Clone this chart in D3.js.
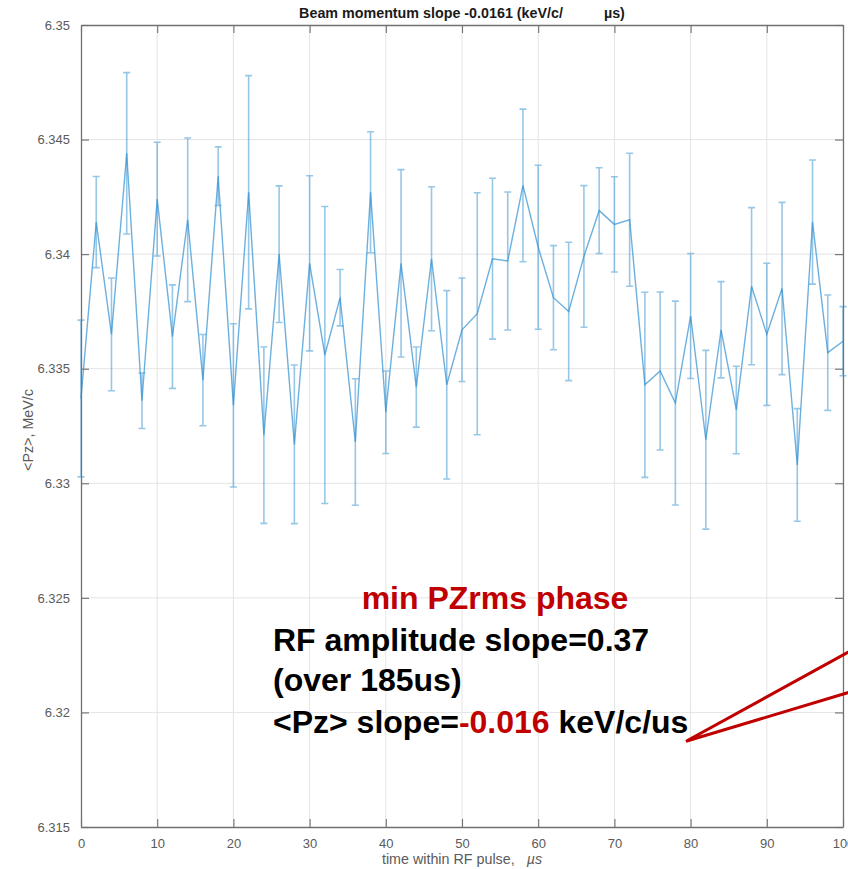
<!DOCTYPE html>
<html lang="en">
<head>
  <meta charset="UTF-8" />
  <title>Beam momentum slope</title>
  <script src="https://d3js.org/d3.v7.min.js"></script>
  <style>
    body { margin: 0; background: #fff; }
    svg { display: block; font-family: "Liberation Sans", Arial, sans-serif; }
    .tick-label { font-size: 13px; fill: #5a5a5a; }
    .grid line { stroke: #e4e4e4; stroke-width: 1; }
    .note { font-size: 32px; font-weight: bold; fill: #000; }
    .red { fill: #c00000; }
  </style>
</head>
<body>
  <svg width="848" height="869"></svg>

  <script>
    // time within RF pulse (us)
    const times = [0, 2, 4, 6, 8, 10, 12, 14, 16, 18, 20, 22, 24, 26, 28, 30, 32, 34, 36, 38,
      40, 42, 44, 46, 48, 50, 52, 54, 56, 58, 60, 62, 64, 66, 68, 70, 72, 74, 76, 78,
      80, 82, 84, 86, 88, 90, 92, 94, 96, 98, 100];

    // <Pz> in MeV/c
    const pzMean = [6.3337, 6.3414, 6.3365, 6.3444, 6.3336, 6.3424, 6.3364, 6.3415, 6.3345, 6.3434,
      6.3334, 6.3427, 6.3321, 6.3400, 6.3317, 6.3396, 6.3356, 6.3381, 6.3318, 6.3427,
      6.3331, 6.3396, 6.3342, 6.3398, 6.3343, 6.3367, 6.3374, 6.3398, 6.3397, 6.3430,
      6.3403, 6.3381, 6.3375, 6.3399, 6.3419, 6.3413, 6.3415, 6.3343, 6.3349, 6.3335,
      6.3373, 6.3319, 6.3367, 6.3332, 6.3386, 6.3365, 6.3385, 6.3308, 6.3414, 6.3357,
      6.3362];

    // error bar half-widths
    const pzErr = [0.00342, 0.00199, 0.00246, 0.00352, 0.00121, 0.00248, 0.00226, 0.00357, 0.00199, 0.00128,
      0.00356, 0.00509, 0.00385, 0.00298, 0.00346, 0.00382, 0.00648, 0.00123, 0.00276, 0.00264,
      0.00180, 0.00409, 0.00175, 0.00314, 0.00411, 0.00226, 0.00528, 0.00351, 0.00301, 0.00333,
      0.00358, 0.00227, 0.00302, 0.00309, 0.00187, 0.00208, 0.00290, 0.00404, 0.00345, 0.00445,
      0.00273, 0.00390, 0.00210, 0.00191, 0.00343, 0.00310, 0.00376, 0.00246, 0.00271, 0.00252,
      0.00151];

    const xTicks = [0, 10, 20, 30, 40, 50, 60, 70, 80, 90, 100];
    const yTicks = [6.315, 6.32, 6.325, 6.33, 6.335, 6.34, 6.345, 6.35];

    const svg = d3.select("svg");
    const x = d3.scaleLinear().domain([0, 100]).range([81, 843]);
    const y = d3.scaleLinear().domain([6.315, 6.35]).range([827, 25]);

    const data = times.map((t, i) => ({ t: t, v: pzMean[i], e: pzErr[i] }));

    // grid
    const grid = svg.append("g").attr("class", "grid");
    grid.selectAll(".gx").data(xTicks.slice(1, -1)).join("line")
      .attr("x1", d => x(d)).attr("x2", d => x(d))
      .attr("y1", y(6.35)).attr("y2", y(6.315));
    grid.selectAll(".gy").data(yTicks.slice(1, -1)).join("line")
      .attr("x1", x(0)).attr("x2", x(100))
      .attr("y1", d => y(d)).attr("y2", d => y(d));

    // axes, MATLAB style box with inward ticks
    const axisColor = "#707070";
    const gBottom = svg.append("g").attr("transform", `translate(0,${y(6.315)})`)
      .call(d3.axisBottom(x).tickValues(xTicks).tickSizeInner(-8).tickSizeOuter(0).tickPadding(12));
    const gTop = svg.append("g").attr("transform", `translate(0,${y(6.35)})`)
      .call(d3.axisTop(x).tickValues(xTicks).tickSizeInner(-8).tickSizeOuter(0).tickFormat(""));
    const gLeft = svg.append("g").attr("transform", `translate(${x(0)},0)`)
      .call(d3.axisLeft(y).tickValues(yTicks).tickSizeInner(-8).tickSizeOuter(0).tickPadding(11).tickFormat(d => +d.toFixed(3)));
    const gRight = svg.append("g").attr("transform", `translate(${x(100)},0)`)
      .call(d3.axisRight(y).tickValues(yTicks).tickSizeInner(-8).tickSizeOuter(0).tickFormat(""));

    [gBottom, gTop, gLeft, gRight].forEach(g => {
      g.attr("font-size", null).attr("font-family", null);
      g.select(".domain").attr("stroke", axisColor).attr("stroke-width", 1.3);
      g.selectAll(".tick line").attr("stroke", axisColor).attr("stroke-width", 1.1);
      g.selectAll(".tick text").attr("class", "tick-label").attr("fill", null);
    });

    // error bars
    const blue = "#2f8fd0";
    const capW = 3.5;
    const bars = svg.append("g")
      .attr("stroke", blue).attr("stroke-width", 1.6).attr("stroke-opacity", 0.5).attr("fill", "none");
    bars.selectAll(".eb").data(data).join("path")
      .attr("d", d => {
        const x0 = x(d.t), y1 = y(d.v + d.e), y2 = y(d.v - d.e);
        return `M${x0},${y1}V${y2}M${x0 - capW},${y1}H${x0 + capW}M${x0 - capW},${y2}H${x0 + capW}`;
      });

    // mean line
    svg.append("path")
      .datum(data)
      .attr("fill", "none")
      .attr("stroke", blue)
      .attr("stroke-width", 1.4)
      .attr("stroke-opacity", 0.7)
      .attr("d", d3.line().x(d => x(d.t)).y(d => y(d.v)));

    // title
    svg.append("text")
      .attr("x", (x(0) + x(100)) / 2).attr("y", 18)
      .attr("text-anchor", "middle")
      .attr("font-size", 14.3).attr("font-weight", "bold").attr("fill", "#1a1a1a")
      .text("Beam momentum slope -0.0161 (keV/c/")
      .append("tspan").attr("dx", 41).text("\u00b5s)");

    // axis labels
    const xl = svg.append("text")
      .attr("x", (x(0) + x(100)) / 2).attr("y", 864)
      .attr("text-anchor", "middle")
      .attr("font-size", 14.3).attr("fill", "#5a5a5a")
      .text("time within RF pulse,");
    xl.append("tspan").attr("dx", 12).attr("font-style", "italic").text("\u00b5s");

    svg.append("text")
      .attr("transform", `translate(33,430) rotate(-90)`)
      .attr("text-anchor", "middle")
      .attr("font-size", 14.3).attr("fill", "#5a5a5a")
      .text("<Pz>, MeV/c");

    // annotation
    svg.append("text").attr("class", "note red")
      .attr("x", 495).attr("y", 609).attr("text-anchor", "middle")
      .text("min PZrms phase");
    svg.append("text").attr("class", "note")
      .attr("x", 273).attr("y", 651)
      .text("RF amplitude slope=0.37");
    svg.append("text").attr("class", "note")
      .attr("x", 273).attr("y", 691)
      .text("(over 185us)");
    const last = svg.append("text").attr("class", "note")
      .attr("x", 273).attr("y", 733)
      .text("<Pz> slope=");
    last.append("tspan").attr("class", "red").text("-0.016");
    last.append("tspan").text(" keV/c/us");

    // callout pointing to the right
    const apex = [79.4, 6.31874];
    const callout = [[102, 6.32287], [102, 6.32100]];
    svg.append("path")
      .attr("fill", "none")
      .attr("stroke", "#c00000")
      .attr("stroke-width", 3)
      .attr("d", `M${x(callout[0][0])},${y(callout[0][1])}L${x(apex[0])},${y(apex[1])}L${x(callout[1][0])},${y(callout[1][1])}`);
  </script>
</body>
</html>
